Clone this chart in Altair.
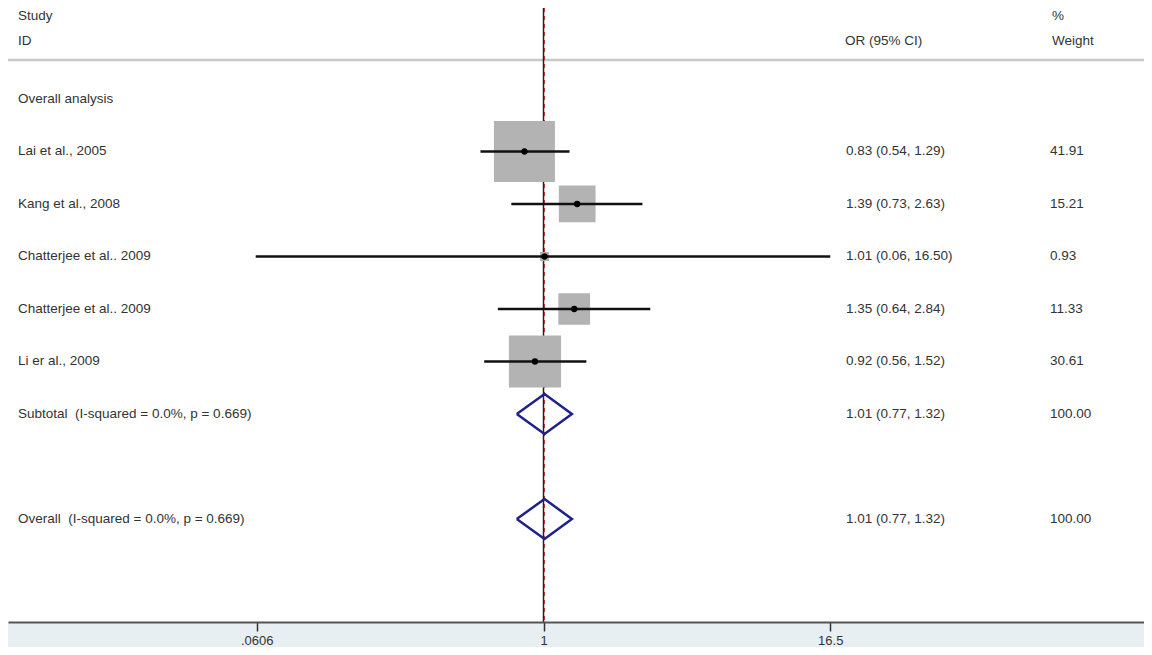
import altair as alt
import pandas as pd

# ---------------- data ----------------
section_label = ["Overall analysis"]
section_row = [0]

study_labels = ["Lai et al., 2005", "Kang et al., 2008", "Chatterjee et al.. 2009",
                "Chatterjee et al.. 2009", "Li er al., 2009"]
study_rows = [1, 2, 3, 4, 5]
or_vals = [0.83, 1.39, 1.01, 1.35, 0.92]
ci_low = [0.54, 0.73, 0.06, 0.64, 0.56]
ci_high = [1.29, 2.63, 16.50, 2.84, 1.52]
weights = [41.91, 15.21, 0.93, 11.33, 30.61]
or_text = ["0.83 (0.54, 1.29)", "1.39 (0.73, 2.63)", "1.01 (0.06, 16.50)",
           "1.35 (0.64, 2.84)", "0.92 (0.56, 1.52)"]
weight_text = ["41.91", "15.21", "0.93", "11.33", "30.61"]

pooled_labels = ["Subtotal\u00a0 (I-squared = 0.0%, p = 0.669)",
                 "Overall\u00a0 (I-squared = 0.0%, p = 0.669)"]
pooled_rows = [6, 8]
pooled_or = [1.01, 1.01]
pooled_low = [0.77, 0.77]
pooled_high = [1.32, 1.32]
pooled_text = ["1.01 (0.77, 1.32)", "1.01 (0.77, 1.32)"]
pooled_weight_text = ["100.00", "100.00"]

tick_values = [0.0606, 1, 16.5]
tick_labels = [".0606", "1", "16.5"]

# ---------------- style / layout ----------------
W, H = 1136, 614
FONT = "Liberation Sans"
FS = 13.5
TXT = "#333333"
DIAMOND_HALF = 0.381   # half height of diamond, in row units

studies = pd.DataFrame({"label": study_labels, "row": study_rows, "or": or_vals,
                        "lo": ci_low, "hi": ci_high, "w": weights,
                        "ortext": or_text, "wtext": weight_text})
pooled = pd.DataFrame({"label": pooled_labels, "row": pooled_rows, "or": pooled_or,
                       "lo": pooled_low, "hi": pooled_high,
                       "ortext": pooled_text, "wtext": pooled_weight_text})
section = pd.DataFrame({"label": section_label, "row": section_row})

dia_rows = []
for k, (r, e, lo, hi) in enumerate(zip(pooled_rows, pooled_or, pooled_low, pooled_high)):
    verts = [(lo, r), (e, r - DIAMOND_HALF), (hi, r), (e, r + DIAMOND_HALF), (lo, r)]
    for j, (xv, yv) in enumerate(verts):
        dia_rows.append({"id": k, "ord": j, "x": xv, "y": yv})
diamonds = pd.DataFrame(dia_rows)

label_expr = "''"
for v, l in reversed(list(zip(tick_values, tick_labels))):
    label_expr = f"abs(datum.value - {v}) < 1e-6 ? '{l}' : ({label_expr})"

xscale = alt.Scale(type="log", domain=[0.005328, 354.3], nice=False)
yscale = alt.Scale(domain=[-1.7333, 9.962], reverse=True, nice=False, zero=False)

one = pd.DataFrame({"v": [1]})

band = alt.Chart(one).mark_rect(color="#e8eff2").encode(
    x=alt.value(0), x2=alt.value(W), y=alt.value(H), y2=alt.value(H + 25))

header_line = alt.Chart(one).mark_rule(color="#c8c8c8", strokeWidth=2.5).encode(
    x=alt.value(0), x2=alt.value(W), y=alt.value(52))

null_line = alt.Chart(one).mark_rule(color="#222222", strokeWidth=1.5).encode(
    x=alt.X("v:Q", scale=xscale,
            axis=alt.Axis(values=tick_values, labelExpr=label_expr, title=None, grid=False,
                          domainColor="#555555", domainWidth=2, tickColor="#333333",
                          tickSize=9, tickWidth=1.5, labelFont=FONT, labelFontSize=13,
                          labelColor=TXT, labelPadding=3, zindex=1)),
    y=alt.value(0), y2=alt.value(H))

overall_line = alt.Chart(pd.DataFrame({"v": [pooled_or[1]]})).mark_rule(
    color="#b0392e", strokeWidth=1, strokeDash=[4, 4]).encode(
    x=alt.X("v:Q", scale=xscale), y=alt.value(0), y2=alt.value(H))

boxes = alt.Chart(studies).mark_square(color="#b3b3b3", opacity=1).encode(
    x=alt.X("or:Q", scale=xscale),
    y=alt.Y("row:Q", scale=yscale, axis=None),
    size=alt.Size("w:Q", scale=alt.Scale(domain=[0, max(weights)], range=[0, 3721]),
                  legend=None))

ci = alt.Chart(studies).mark_rule(color="#111111", strokeWidth=2.5).encode(
    x=alt.X("lo:Q", scale=xscale), x2="hi:Q",
    y=alt.Y("row:Q", scale=yscale))

dots = alt.Chart(studies).mark_circle(color="#000000", opacity=1, size=40).encode(
    x=alt.X("or:Q", scale=xscale), y=alt.Y("row:Q", scale=yscale))

dia = alt.Chart(diamonds).mark_line(color="#20208a", strokeWidth=2.5,
                                    strokeJoin="miter").encode(
    x=alt.X("x:Q", scale=xscale), y=alt.Y("y:Q", scale=yscale),
    detail="id:N", order="ord:Q")

def txt(df, field, xpx):
    return alt.Chart(df).mark_text(align="left", baseline="middle", font=FONT,
                                   fontSize=FS, color=TXT).encode(
        x=alt.value(xpx), y=alt.Y("row:Q", scale=yscale), text=f"{field}:N")

def header(t, xpx, ypx):
    return alt.Chart(one).mark_text(align="left", baseline="middle", font=FONT,
                                    fontSize=FS, color=TXT, text=t).encode(
        x=alt.value(xpx), y=alt.value(ypx))

chart = alt.layer(
    band, header_line, null_line, overall_line, boxes, ci, dots, dia,
    txt(section, "label", 10),
    txt(studies, "label", 10), txt(studies, "ortext", 838), txt(studies, "wtext", 1042),
    txt(pooled, "label", 10), txt(pooled, "ortext", 838), txt(pooled, "wtext", 1042),
    header("Study", 10, 8), header("ID", 10, 33),
    header("OR (95% CI)", 837, 33), header("%", 1044, 8), header("Weight", 1044, 33),
).properties(
    width=W, height=H,
    autosize=alt.AutoSizeParams(type="none"),
    padding={"left": 0, "right": 0, "top": 0, "bottom": 25},
    background="white",
).configure_view(stroke=None)

chart.save("out.html", embed_options={"renderer": "svg", "actions": False})
